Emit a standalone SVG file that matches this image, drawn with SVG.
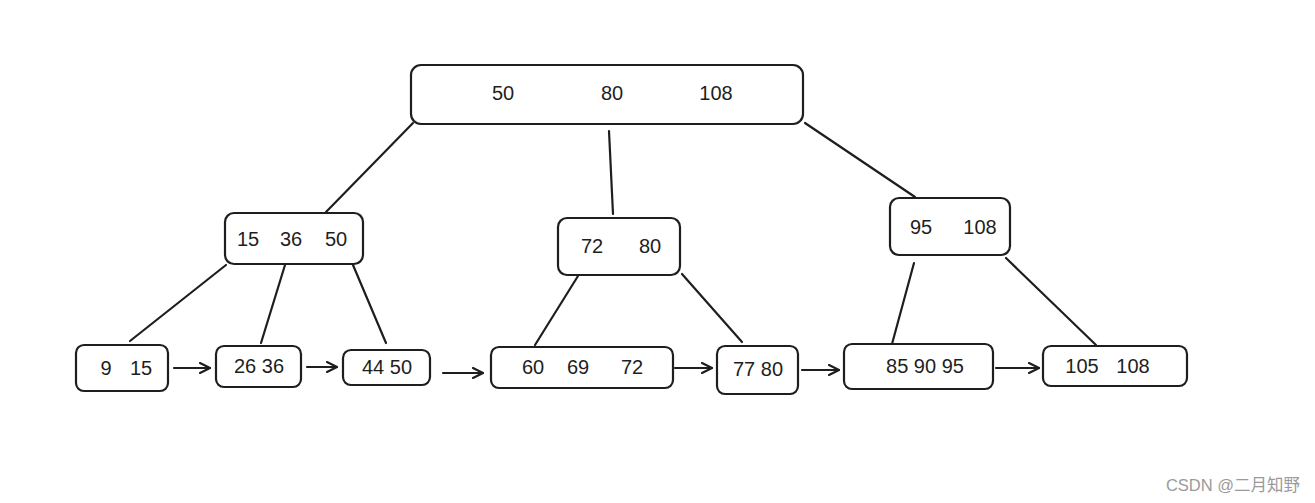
<svg xmlns="http://www.w3.org/2000/svg" width="1315" height="503" viewBox="0 0 1315 503">
<defs>
<marker id="ah" viewBox="0 0 12 12" refX="11" refY="6" markerWidth="12" markerHeight="12" markerUnits="userSpaceOnUse" orient="auto">
<path d="M1,1 L11,6 L1,11" fill="none" stroke="#1e1e1e" stroke-width="2.2" stroke-linecap="round" stroke-linejoin="round"/>
</marker>
<style>
.box{fill:#fff;stroke:#1e1e1e;stroke-width:2.2;}
.t{font-family:"Liberation Sans",sans-serif;font-size:20px;fill:#1e1e1e;text-anchor:middle;dominant-baseline:central;}
.e{stroke:#1e1e1e;stroke-width:2.2;fill:none;stroke-linecap:round;}
.a{stroke:#1e1e1e;stroke-width:2.2;fill:none;stroke-linecap:round;marker-end:url(#ah);}
</style>
</defs>
<rect width="1315" height="503" fill="#fff"/>
<g id="connectors">
<line class="e" x1="413" y1="123" x2="326" y2="212"/>
<line class="e" x1="609" y1="131" x2="613" y2="214"/>
<line class="e" x1="805" y1="123" x2="915" y2="197"/>
<line class="e" x1="226" y1="265" x2="130" y2="341"/>
<line class="e" x1="285" y1="265" x2="261" y2="343"/>
<line class="e" x1="353" y1="265" x2="386" y2="343"/>
<line class="e" x1="578" y1="276" x2="535" y2="345"/>
<line class="e" x1="682" y1="274" x2="742" y2="342"/>
<line class="e" x1="914" y1="263" x2="892" y2="344"/>
<line class="e" x1="1006" y1="258" x2="1096" y2="345"/>
<line class="a" x1="174" y1="368" x2="210" y2="368"/>
<line class="a" x1="307" y1="367" x2="337" y2="367"/>
<line class="a" x1="443" y1="373" x2="483" y2="373"/>
<line class="a" x1="675" y1="368" x2="712" y2="368"/>
<line class="a" x1="802" y1="370" x2="839" y2="370"/>
<line class="a" x1="996" y1="368" x2="1039" y2="368"/>
</g>
<g id="root">
<rect class="box" x="411" y="65" width="392" height="59" rx="10"/>
<text class="t" x="503" y="93">50</text>
<text class="t" x="612" y="93">80</text>
<text class="t" x="716" y="93">108</text>
</g>
<g id="n15_36_50">
<rect class="box" x="225" y="213" width="138" height="51" rx="9"/>
<text class="t" x="248" y="239">15</text>
<text class="t" x="291" y="239">36</text>
<text class="t" x="336" y="239">50</text>
</g>
<g id="n72_80">
<rect class="box" x="558" y="218" width="122" height="57" rx="9"/>
<text class="t" x="592" y="246">72</text>
<text class="t" x="650" y="246">80</text>
</g>
<g id="n95_108">
<rect class="box" x="890" y="198" width="120" height="57" rx="9"/>
<text class="t" x="921" y="227">95</text>
<text class="t" x="980" y="227">108</text>
</g>
<g id="leaf_9_15">
<rect class="box" x="76" y="345" width="92" height="46" rx="8"/>
<text class="t" x="106" y="368">9</text>
<text class="t" x="141" y="368">15</text>
</g>
<g id="leaf_26_36">
<rect class="box" x="216" y="346" width="85" height="41" rx="8"/>
<text class="t" x="259" y="366">26 36</text>
</g>
<g id="leaf_44_50">
<rect class="box" x="343" y="350" width="87" height="35" rx="8"/>
<text class="t" x="387" y="367">44 50</text>
</g>
<g id="leaf_60_69_72">
<rect class="box" x="491" y="347" width="182" height="41" rx="8"/>
<text class="t" x="533" y="367">60</text>
<text class="t" x="578" y="367">69</text>
<text class="t" x="632" y="367">72</text>
</g>
<g id="leaf_77_80">
<rect class="box" x="717" y="346" width="81" height="48" rx="8"/>
<text class="t" x="758" y="369">77 80</text>
</g>
<g id="leaf_85_90_95">
<rect class="box" x="844" y="344" width="149" height="45" rx="8"/>
<text class="t" x="925" y="366">85 90 95</text>
</g>
<g id="leaf_105_108">
<rect class="box" x="1043" y="346" width="144" height="40" rx="8"/>
<text class="t" x="1082" y="366">105</text>
<text class="t" x="1133" y="366">108</text>
</g>
<text x="1300" y="491" font-family="'Liberation Sans','Noto Sans CJK SC',sans-serif" font-size="16.5" fill="#9a9a9a" text-anchor="end">CSDN @二月知野</text>
</svg>
